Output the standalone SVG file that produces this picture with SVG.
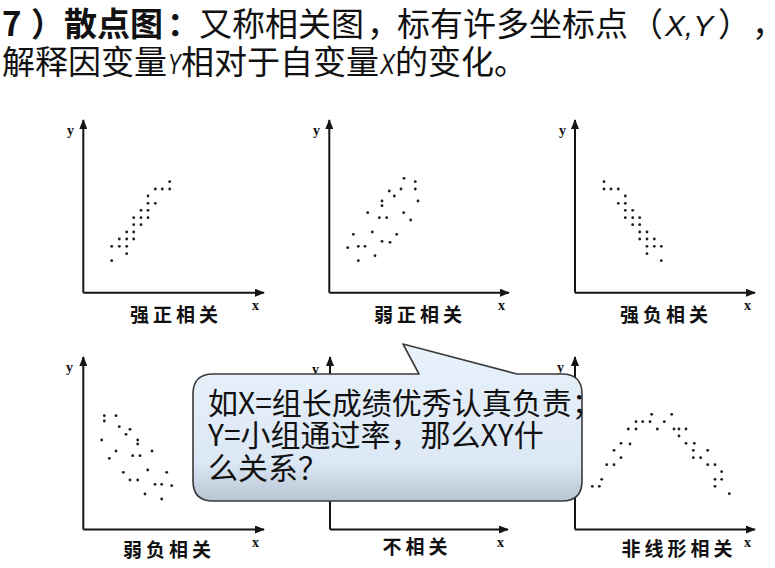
<svg xmlns="http://www.w3.org/2000/svg" width="775" height="568" viewBox="0 0 775 568">
<style>
.t{font-family:"Noto Sans CJK SC","Liberation Sans",sans-serif;fill:#111;font-size:33px}
.b{font-weight:bold}
.it{font-family:"Liberation Sans",sans-serif;font-style:italic;font-size:30px}
.ax{stroke:#151515;stroke-width:2;fill:none}
.al{font-family:"Liberation Serif",serif;font-weight:bold;font-size:14px;fill:#111}
.lb{font-family:"Noto Sans CJK SC",sans-serif;font-weight:bold;font-size:19px;fill:#111;letter-spacing:4px;text-anchor:middle}
.d circle{fill:#1d1d1d}
.bt{font-family:"Noto Sans CJK SC","Liberation Sans",sans-serif;font-size:30px;fill:#111}
</style>
<defs>
<marker id="arr" viewBox="0 0 10 8" refX="9" refY="4" markerWidth="10" markerHeight="8" orient="auto" markerUnits="userSpaceOnUse">
<path d="M0,0 L10,4 L0,8 Z" fill="#151515"/>
</marker>
<linearGradient id="cg" x1="0" y1="0" x2="0" y2="1">
<stop offset="0" stop-color="#e9f2fb"/>
<stop offset="0.75" stop-color="#dce8f5"/>
<stop offset="1" stop-color="#b7c4d1"/>
</linearGradient>
</defs>

<g id="title">
<text class="t" y="36"><tspan class="b" x="2">7</tspan><tspan class="b" x="31">）</tspan><tspan class="b" x="64">散点图</tspan><tspan class="b" x="167">：</tspan><tspan x="199">又称相关图</tspan><tspan x="367">，</tspan><tspan x="397">标有许多坐标点</tspan><tspan x="630">（</tspan><tspan class="it" x="665" textLength="48" lengthAdjust="spacingAndGlyphs">X,Y</tspan><tspan x="718">）</tspan><tspan x="752">，</tspan></text>
<text class="t" y="74"><tspan x="2">解释因变量</tspan><tspan class="it" x="168" textLength="13" lengthAdjust="spacingAndGlyphs">Y</tspan><tspan x="181">相对于自变量</tspan><tspan class="it" x="380" textLength="15" lengthAdjust="spacingAndGlyphs">X</tspan><tspan x="395">的变化。</tspan></text>
</g>

<g id="connectors">
<path class="ax" marker-end="url(#arr)" d="M83.3,292.7 V120"/>
<path class="ax" marker-end="url(#arr)" d="M83.3,292.7 H264"/>
<path class="ax" marker-end="url(#arr)" d="M329.3,292.7 V120"/>
<path class="ax" marker-end="url(#arr)" d="M329.3,292.7 H509"/>
<path class="ax" marker-end="url(#arr)" d="M575,292.7 V120"/>
<path class="ax" marker-end="url(#arr)" d="M575,292.7 H755"/>
<path class="ax" marker-end="url(#arr)" d="M83.3,529.5 V357"/>
<path class="ax" marker-end="url(#arr)" d="M83.3,529.5 H264"/>
<path class="ax" marker-end="url(#arr)" d="M330,529.5 V357"/>
<path class="ax" marker-end="url(#arr)" d="M330,529.5 H508"/>
<path class="ax" marker-end="url(#arr)" d="M575,529.5 V357"/>
<path class="ax" marker-end="url(#arr)" d="M575,529.5 H755"/>
</g>

<g id="plot-strong-positive">
<text class="al" x="67" y="135">y</text>
<text class="al" x="252" y="310">x</text>
<text class="lb" x="176" y="322">强正相关</text>
<g class="d">
<circle cx="111.7" cy="260.7" r="1.4"/><circle cx="111.7" cy="246.3" r="1.4"/><circle cx="119.3" cy="246.3" r="1.4"/><circle cx="119.3" cy="239" r="1.4"/>
<circle cx="126.7" cy="253.7" r="1.4"/><circle cx="126.7" cy="246.3" r="1.4"/><circle cx="126.7" cy="239" r="1.4"/><circle cx="126.7" cy="232" r="1.4"/>
<circle cx="133.7" cy="239" r="1.4"/><circle cx="133.7" cy="232" r="1.4"/><circle cx="133.7" cy="224.7" r="1.4"/><circle cx="133.7" cy="217.7" r="1.4"/>
<circle cx="141" cy="224.7" r="1.4"/><circle cx="141" cy="217.7" r="1.4"/><circle cx="141" cy="210.3" r="1.4"/><circle cx="148" cy="217.7" r="1.4"/>
<circle cx="148" cy="210.3" r="1.4"/><circle cx="148" cy="203.3" r="1.4"/><circle cx="148" cy="196" r="1.4"/><circle cx="155.3" cy="203.3" r="1.4"/>
<circle cx="155.3" cy="189" r="1.4"/><circle cx="162.3" cy="189" r="1.4"/><circle cx="169.7" cy="189" r="1.4"/><circle cx="169.7" cy="181.7" r="1.4"/>
</g>
</g>

<g id="plot-weak-positive">
<text class="al" x="313" y="135">y</text>
<text class="al" x="498" y="310">x</text>
<text class="lb" x="420" y="322">弱正相关</text>
<g class="d">
<circle cx="347.7" cy="247.7" r="1.4"/><circle cx="353.3" cy="234.3" r="1.4"/><circle cx="358.3" cy="260.7" r="1.4"/><circle cx="358.3" cy="246.3" r="1.4"/>
<circle cx="365" cy="246.3" r="1.4"/><circle cx="367.7" cy="212.7" r="1.4"/><circle cx="372.3" cy="232" r="1.4"/><circle cx="375" cy="255.7" r="1.4"/>
<circle cx="379.3" cy="217.7" r="1.4"/><circle cx="382" cy="241.3" r="1.4"/><circle cx="382" cy="205.7" r="1.4"/><circle cx="382" cy="201" r="1.4"/>
<circle cx="386.7" cy="217.7" r="1.4"/><circle cx="389.3" cy="191" r="1.4"/><circle cx="390" cy="242.3" r="1.4"/><circle cx="394.3" cy="196" r="1.4"/>
<circle cx="396.7" cy="234.3" r="1.4"/><circle cx="401" cy="189" r="1.4"/><circle cx="403.7" cy="212.7" r="1.4"/><circle cx="404" cy="178.3" r="1.4"/>
<circle cx="410.7" cy="220" r="1.4"/><circle cx="415.3" cy="181.7" r="1.4"/><circle cx="415.3" cy="189" r="1.4"/><circle cx="418" cy="201" r="1.4"/>
</g>
</g>

<g id="plot-strong-negative">
<text class="al" x="559" y="135">y</text>
<text class="al" x="744" y="310">x</text>
<text class="lb" x="666" y="322">强负相关</text>
<g class="d">
<circle cx="604" cy="181.7" r="1.4"/><circle cx="604" cy="189" r="1.4"/><circle cx="611" cy="189" r="1.4"/><circle cx="618.3" cy="189" r="1.4"/>
<circle cx="618.3" cy="203.3" r="1.4"/><circle cx="625.3" cy="196" r="1.4"/><circle cx="625.3" cy="203.3" r="1.4"/><circle cx="625.3" cy="210.3" r="1.4"/>
<circle cx="625.3" cy="217.7" r="1.4"/><circle cx="632.7" cy="210.3" r="1.4"/><circle cx="632.7" cy="217.7" r="1.4"/><circle cx="632.7" cy="224.7" r="1.4"/>
<circle cx="639.7" cy="217.7" r="1.4"/><circle cx="639.7" cy="224.7" r="1.4"/><circle cx="639.7" cy="232" r="1.4"/><circle cx="639.7" cy="239" r="1.4"/>
<circle cx="647" cy="232" r="1.4"/><circle cx="647" cy="239" r="1.4"/><circle cx="647" cy="246.3" r="1.4"/><circle cx="647" cy="253.7" r="1.4"/>
<circle cx="654.3" cy="239" r="1.4"/><circle cx="654.3" cy="246.3" r="1.4"/><circle cx="661.3" cy="246.3" r="1.4"/><circle cx="661.3" cy="260.7" r="1.4"/>
</g>
</g>

<g id="plot-weak-negative">
<text class="al" x="66" y="372">y</text>
<text class="al" x="252" y="547">x</text>
<text class="lb" x="169" y="557">弱负相关</text>
<g class="d">
<circle cx="104.3" cy="415.7" r="1.4"/><circle cx="104.3" cy="421" r="1.4"/><circle cx="116" cy="415.7" r="1.4"/><circle cx="119.3" cy="426.7" r="1.4"/>
<circle cx="126" cy="434.3" r="1.4"/><circle cx="130" cy="429.3" r="1.4"/><circle cx="101.7" cy="440" r="1.4"/><circle cx="137.7" cy="440" r="1.4"/>
<circle cx="137.7" cy="444" r="1.4"/><circle cx="116" cy="451" r="1.4"/><circle cx="109.3" cy="458.3" r="1.4"/><circle cx="132.7" cy="455.7" r="1.4"/>
<circle cx="140" cy="455.7" r="1.4"/><circle cx="152" cy="451" r="1.4"/><circle cx="123.3" cy="472.3" r="1.4"/><circle cx="147.7" cy="470" r="1.4"/>
<circle cx="166.7" cy="472.3" r="1.4"/><circle cx="130" cy="480" r="1.4"/><circle cx="137.7" cy="480" r="1.4"/><circle cx="155" cy="484.3" r="1.4"/>
<circle cx="161.7" cy="484.3" r="1.4"/><circle cx="171.7" cy="485.7" r="1.4"/><circle cx="145" cy="494" r="1.4"/><circle cx="161.7" cy="499" r="1.4"/>
</g>
</g>

<g id="plot-no-correlation">
<text class="al" x="312" y="374">y</text>
<text class="al" x="497" y="547">x</text>
<text class="lb" x="417" y="554">不相关</text>
</g>

<g id="plot-nonlinear">
<text class="al" x="557" y="372">y</text>
<text class="al" x="744" y="547">x</text>
<text class="lb" x="679" y="556">非线形相关</text>
<g class="d">
<circle cx="592.3" cy="486.3" r="1.4"/><circle cx="599.3" cy="486.3" r="1.4"/><circle cx="601.7" cy="479.3" r="1.4"/><circle cx="606.7" cy="464.7" r="1.4"/>
<circle cx="614" cy="464.7" r="1.4"/><circle cx="614" cy="450.3" r="1.4"/><circle cx="621" cy="457.7" r="1.4"/><circle cx="621" cy="443.3" r="1.4"/>
<circle cx="630" cy="444" r="1.4"/><circle cx="628.3" cy="429" r="1.4"/><circle cx="636" cy="429" r="1.4"/><circle cx="636" cy="421.7" r="1.4"/>
<circle cx="642.7" cy="421.7" r="1.4"/><circle cx="650" cy="421.7" r="1.4"/><circle cx="651.7" cy="414.3" r="1.4"/><circle cx="657.3" cy="429" r="1.4"/>
<circle cx="664.3" cy="421.7" r="1.4"/><circle cx="671.7" cy="414.3" r="1.4"/><circle cx="674" cy="429" r="1.4"/><circle cx="679" cy="429" r="1.4"/>
<circle cx="679" cy="436" r="1.4"/><circle cx="686" cy="429" r="1.4"/><circle cx="686" cy="443.3" r="1.4"/><circle cx="694.3" cy="443.3" r="1.4"/>
<circle cx="693.3" cy="450.3" r="1.4"/><circle cx="693.3" cy="457.7" r="1.4"/><circle cx="700.7" cy="457.7" r="1.4"/><circle cx="707.7" cy="450.3" r="1.4"/>
<circle cx="707.7" cy="464.7" r="1.4"/><circle cx="715" cy="464.7" r="1.4"/><circle cx="721.7" cy="471.7" r="1.4"/><circle cx="715" cy="479.3" r="1.4"/>
<circle cx="721.7" cy="479.3" r="1.4"/><circle cx="715" cy="486.3" r="1.4"/><circle cx="729.3" cy="493.7" r="1.4"/>
</g>
</g>

<g id="callout">
<path d="M213,374 L419,374 L403,344 L517,374 L562,374 Q582,374 582,394 L582,481 Q582,501 562,501 L213,501 Q193,501 193,481 L193,394 Q193,374 213,374 Z" fill="url(#cg)" stroke="#3a3a3a" stroke-width="1.6" stroke-linejoin="round"/>
<text class="bt"><tspan x="208" y="414">如X=组长成绩优秀认真负责；</tspan><tspan x="208" y="446">Y=小组通过率，那么XY什</tspan><tspan x="208" y="479">么关系？</tspan></text>
</g>
</svg>
